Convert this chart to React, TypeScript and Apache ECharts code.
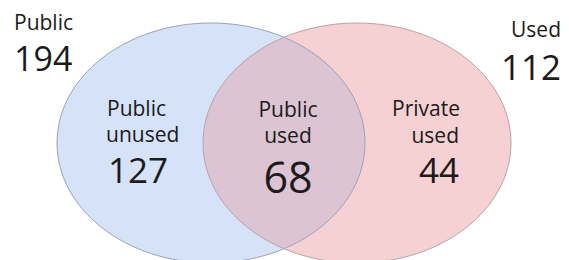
import React, { useEffect, useRef } from "react";
import * as echarts from "echarts";

// ---- data ----
const setNames: string[] = ["Public", "Used"];
const setTotals: number[] = [194, 112];
const regionTitles: string[][] = [
  ["Public", "unused"],
  ["Public", "used"],
  ["Private", "used"],
];
const regionCounts: number[] = [127, 68, 44];

// ---- geometry (layout) ----
const CY = 143;
const RX = 154;
const RY = 120;
const BLUE_CX = 211;
const RED_CX = 357;
const MID_X = (BLUE_CX + RED_CX) / 2;
const DY = RY * Math.sqrt(1 - Math.pow((MID_X - BLUE_CX) / RX, 2));
const Y_TOP = CY - DY;
const Y_BOT = CY + DY;

const lensD = `M ${MID_X} ${Y_TOP} A ${RX} ${RY} 0 0 1 ${MID_X} ${Y_BOT} A ${RX} ${RY} 0 0 1 ${MID_X} ${Y_TOP} Z`;
echarts.graphic.registerShape("vennLens", echarts.graphic.extendPath(lensD, {}) as any);

const FONT = "'Open Sans', 'DejaVu Sans', sans-serif";
const INK = "#1b1b1b";

function txt(text: string, x: number, y: number, size: number, align: string) {
  return {
    type: "text",
    x,
    y,
    style: {
      text,
      fill: INK,
      font: `${size}px ${FONT}`,
      lineHeight: Math.round(size * 0.9),
      align,
      verticalAlign: "middle",
    },
  };
}

export default function App() {
  const ref = useRef<HTMLDivElement>(null);
  useEffect(() => {
    if (!ref.current) return;
    const chart = echarts.init(ref.current, null, { renderer: "svg" });
    const graphic: any[] = [
      { type: "ellipse", shape: { cx: BLUE_CX, cy: CY, rx: RX, ry: RY }, style: { fill: "#d6e2f8", stroke: "none" } },
      { type: "ellipse", shape: { cx: RED_CX, cy: CY, rx: RX, ry: RY }, style: { fill: "#f6d1d3", stroke: "none" } },
      { type: "vennLens", x: 0, y: 0, style: { fill: "#dcc4d2", stroke: "none" } },
      { type: "ellipse", shape: { cx: BLUE_CX, cy: CY, rx: RX, ry: RY }, style: { fill: "none", stroke: "#9ba3b6", lineWidth: 1 } },
      { type: "ellipse", shape: { cx: RED_CX, cy: CY, rx: RX, ry: RY }, style: { fill: "none", stroke: "#b9a3ab", lineWidth: 1 } },
      // set totals
      txt(setNames[0], 14, 21.5, 21, "left"),
      txt(String(setTotals[0]), 14, 58, 34, "left"),
      txt(setNames[1], 561, 28.5, 21, "right"),
      txt(String(setTotals[1]), 561, 66.5, 35, "right"),
      // left region
      txt(regionTitles[0][0], 107, 107.5, 21, "left"),
      txt(regionTitles[0][1], 106, 133.5, 21, "left"),
      txt(String(regionCounts[0]), 108, 169, 35, "left"),
      // middle region
      txt(regionTitles[1][0], 288, 108.5, 21, "center"),
      txt(regionTitles[1][1], 288, 134.5, 21, "center"),
      txt(String(regionCounts[1]), 288, 176, 43, "center"),
      // right region
      txt(regionTitles[2][0], 460, 108, 21, "right"),
      txt(regionTitles[2][1], 459, 134.5, 21, "right"),
      txt(String(regionCounts[2]), 459, 169, 35, "right"),
    ];
    chart.setOption({
      animation: false,
      backgroundColor: "#ffffff",
      graphic,
    });
    return () => chart.dispose();
  }, []);
  return (
    <div
      ref={ref}
      style={{ position: "fixed", left: 0, top: 0, width: 569, height: 260, background: "#fff" }}
    />
  );
}
